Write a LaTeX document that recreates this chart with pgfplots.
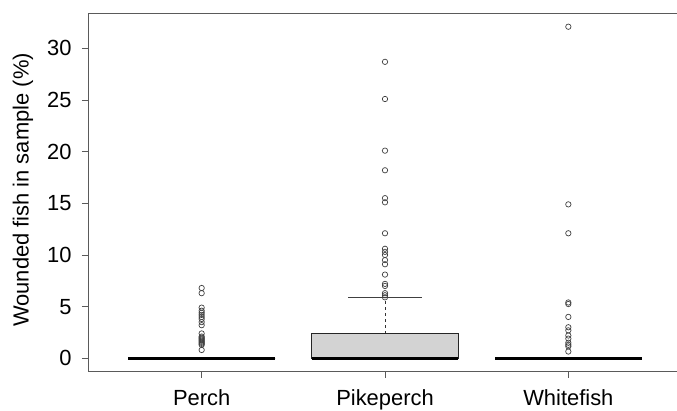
\documentclass[border=0pt]{standalone}
\usepackage{pgfplots}
\pgfplotsset{compat=1.18}
\usepgfplotslibrary{statistics}
\usepackage{fontspec}
\setmainfont{Liberation Sans}
\definecolor{boxgray}{RGB}{211,211,211}
\definecolor{axgray}{RGB}{90,90,90}
\begin{document}
\begin{tikzpicture}
\begin{scope}
\clip (-88bp,-39.5bp) rectangle (589bp,371.5bp);
\begin{axis}[
  at={(0,0)}, anchor=south west,
  scale only axis, width=594bp, height=358bp,
  xmin=0.38, xmax=3.62, ymin=-1.284, ymax=33.38,
  xtick={1,2,3}, xticklabels={Perch,Pikeperch,Whitefish},
  ytick={0,5,10,15,20,25,30},
  tick pos=left, tick align=outside, major tick length=6bp,
  axis line style={draw=axgray, line width=0.9bp},
  every tick/.style={draw=axgray, line width=0.9bp},
  font=\fontsize{22}{26}\selectfont,
  ticklabel style={font=\fontsize{22}{26}\selectfont},
  xticklabel style={yshift=-8.5bp},
  yticklabel style={xshift=-7bp},
  /pgf/number format/assume math mode=true,
  every axis y label/.style={at={(axis description cs:-0.1094,0.507)}, rotate=90, anchor=center, font=\fontsize{22}{26}\selectfont},
  ylabel={Wounded fish in sample (\%)},
  boxplot/draw direction=y,
  boxplot/every box/.style={draw=black!85, fill=boxgray, line width=0.9bp},
  boxplot/every median/.style={draw=black, line width=2.6bp},
  boxplot/draw/upper whisker/.code={
    \draw[draw=black!80, line width=0.8bp, dash pattern=on 3bp off 3bp]
      (boxplot box cs:\pgfplotsboxplotvalue{upper quartile},0.5) --
      (boxplot box cs:\pgfplotsboxplotvalue{upper whisker},0.5);
    \draw[draw=black!75, line width=0.9bp]
      (boxplot box cs:\pgfplotsboxplotvalue{upper whisker},0.25) --
      (boxplot box cs:\pgfplotsboxplotvalue{upper whisker},0.75);
  },
  boxplot/draw/lower whisker/.code={},
]
\addplot[boxplot prepared={draw position=1, lower whisker=0, lower quartile=0, median=0, upper quartile=0, upper whisker=0, box extend=0.8},
  mark=o, mark size=2.7bp, mark options={draw=black!75, line width=0.7bp, solid}]
  table[row sep=\\, y index=0] {data\\ 6.8\\ 6.3\\ 4.9\\ 4.6\\ 4.4\\ 4.2\\ 4.0\\ 3.8\\ 3.5\\ 3.2\\ 2.4\\ 2.1\\ 2.0\\ 1.9\\ 1.8\\ 1.7\\ 1.6\\ 1.5\\ 1.4\\ 1.3\\ 0.8\\};
\addplot[boxplot prepared={draw position=2, lower whisker=0, lower quartile=0, median=0, upper quartile=2.39, upper whisker=5.85, box extend=0.8},
  mark=o, mark size=2.7bp, mark options={draw=black!75, line width=0.7bp, solid}]
  table[row sep=\\, y index=0] {data\\ 28.7\\ 25.1\\ 20.1\\ 18.2\\ 15.5\\ 15.1\\ 12.1\\ 10.6\\ 10.3\\ 10.0\\ 9.5\\ 9.1\\ 8.1\\ 7.2\\ 7.0\\ 6.3\\ 6.1\\ 5.9\\};
\addplot[boxplot prepared={draw position=3, lower whisker=0, lower quartile=0, median=0, upper quartile=0, upper whisker=0, box extend=0.8},
  mark=o, mark size=2.7bp, mark options={draw=black!75, line width=0.7bp, solid}]
  table[row sep=\\, y index=0] {data\\ 32.1\\ 14.9\\ 12.1\\ 5.4\\ 5.25\\ 4.0\\ 3.0\\ 2.7\\ 2.2\\ 1.9\\ 1.5\\ 1.3\\ 1.15\\ 0.65\\};
\end{axis}
\end{scope}
\pgfresetboundingbox
\path[use as bounding box] (-88bp,-39.5bp) rectangle (589bp,371.5bp);
\end{tikzpicture}
\end{document}
